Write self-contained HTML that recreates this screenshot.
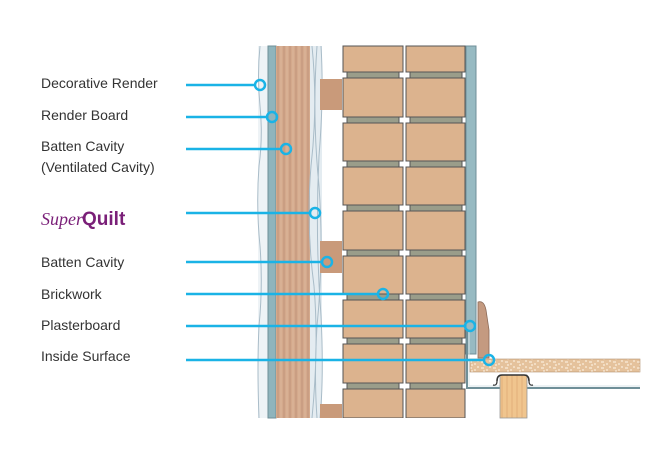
<!DOCTYPE html>
<html><head><meta charset="utf-8"><style>
html,body{margin:0;padding:0;background:#fff;width:667px;height:468px;overflow:hidden}
svg{display:block}
text{font-family:"Liberation Sans",sans-serif;font-size:14px;fill:#333}
</style></head><body>
<svg width="667" height="468" viewBox="0 0 667 468" xmlns="http://www.w3.org/2000/svg">
<defs>
<pattern id="wood" width="6" height="10" patternUnits="userSpaceOnUse">
<rect width="6" height="10" fill="#d4a98c"/><line x1="2" y1="0" x2="2" y2="10" stroke="#c0937a" stroke-width="1"/><line x1="5" y1="0" x2="5" y2="10" stroke="#e0bba2" stroke-width="0.8"/>
</pattern>
<pattern id="chip" width="12" height="6" patternUnits="userSpaceOnUse">
<rect width="12" height="6" fill="#e5c29c"/><path d="M1 2h3M6 4h2M9 1h2M3 5h2" stroke="#fff6e8" stroke-width="1"/>
</pattern>
<pattern id="joist" width="5" height="10" patternUnits="userSpaceOnUse">
<rect width="5" height="10" fill="#f0c58e"/><line x1="2" y1="0" x2="2" y2="10" stroke="#e2b07a" stroke-width="1"/>
</pattern>
</defs>
<!-- render -->
<rect x="258" y="46" width="11" height="372" fill="#eef3f6"/>
<path d="M260 46 q-3 30 0 60 q3 30 -1 60 q-3 40 1 80 q3 40 -1 80 q-2 40 0 92" stroke="#a9bcc8" fill="none"/>
<rect x="268" y="46" width="8" height="372" fill="#8fb4bc" stroke="#6f8f98" stroke-width="1"/>
<!-- batten -->
<rect x="276" y="46" width="34" height="372" fill="url(#wood)"/>
<!-- quilt -->
<rect x="310" y="46" width="12" height="372" fill="#e4ecf1"/>
<path d="M312 46 q6 60 -1 120 q-5 60 3 120 q5 60 -2 132 M317 46 q-5 70 2 140 q5 70 -2 140 q-3 50 0 92 M321 46 q3 50 -2 110 q-4 80 2 160 q3 60 -1 102" stroke="#a9bcc8" fill="none"/>
<!-- small battens -->
<rect x="320" y="79" width="22" height="31" fill="#c99a7a"/>
<rect x="320" y="241" width="22" height="32" fill="#c99a7a"/>
<rect x="320" y="404" width="22" height="14" fill="#c99a7a"/>
<!-- bricks -->
<g stroke="#555" stroke-width="1">
<rect x="343" y="46" width="60" height="26" fill="#dcb38e"/><rect x="406" y="46" width="59" height="26" fill="#dcb38e"/>
<rect x="347" y="72" width="52" height="6" fill="#9a9d8a"/><rect x="410" y="72" width="52" height="6" fill="#9a9d8a"/>
<rect x="343" y="78" width="60" height="39" fill="#dcb38e"/><rect x="406" y="78" width="59" height="39" fill="#dcb38e"/>
<rect x="347" y="117" width="52" height="6" fill="#9a9d8a"/><rect x="410" y="117" width="52" height="6" fill="#9a9d8a"/>
<rect x="343" y="123" width="60" height="38" fill="#dcb38e"/><rect x="406" y="123" width="59" height="38" fill="#dcb38e"/>
<rect x="347" y="161" width="52" height="6" fill="#9a9d8a"/><rect x="410" y="161" width="52" height="6" fill="#9a9d8a"/>
<rect x="343" y="167" width="60" height="38" fill="#dcb38e"/><rect x="406" y="167" width="59" height="38" fill="#dcb38e"/>
<rect x="347" y="205" width="52" height="6" fill="#9a9d8a"/><rect x="410" y="205" width="52" height="6" fill="#9a9d8a"/>
<rect x="343" y="211" width="60" height="39" fill="#dcb38e"/><rect x="406" y="211" width="59" height="39" fill="#dcb38e"/>
<rect x="347" y="250" width="52" height="6" fill="#9a9d8a"/><rect x="410" y="250" width="52" height="6" fill="#9a9d8a"/>
<rect x="343" y="256" width="60" height="38" fill="#dcb38e"/><rect x="406" y="256" width="59" height="38" fill="#dcb38e"/>
<rect x="347" y="294" width="52" height="6" fill="#9a9d8a"/><rect x="410" y="294" width="52" height="6" fill="#9a9d8a"/>
<rect x="343" y="300" width="60" height="38" fill="#dcb38e"/><rect x="406" y="300" width="59" height="38" fill="#dcb38e"/>
<rect x="347" y="338" width="52" height="6" fill="#9a9d8a"/><rect x="410" y="338" width="52" height="6" fill="#9a9d8a"/>
<rect x="343" y="344" width="60" height="39" fill="#dcb38e"/><rect x="406" y="344" width="59" height="39" fill="#dcb38e"/>
<rect x="347" y="383" width="52" height="6" fill="#9a9d8a"/><rect x="410" y="383" width="52" height="6" fill="#9a9d8a"/>
<rect x="343" y="389" width="60" height="29" fill="#dcb38e"/><rect x="406" y="389" width="59" height="29" fill="#dcb38e"/>
</g>
<rect x="342" y="418" width="126" height="4" fill="#fff"/>
<!-- plasterboard -->
<rect x="466" y="46" width="10" height="308" fill="#97bac2" stroke="#6f8f98" stroke-width="1"/>
<path d="M467 330 V388 H640" stroke="#6f8f98" stroke-width="2" fill="none"/>
<path d="M469 330 V386 H640" stroke="#d8e4e8" stroke-width="1" fill="none"/>
<!-- skirting -->
<path d="M478 358 V302 Q484 300 486 310 L489 330 V358 Z" fill="#c49a80" stroke="#8a6a58" stroke-width="0.8"/>
<!-- chipboard floor -->
<rect x="470" y="359" width="170" height="13" fill="url(#chip)" stroke="#b59070" stroke-width="0.6"/>
<!-- joist -->
<rect x="500" y="375" width="27" height="43" fill="url(#joist)" stroke="#999" stroke-width="0.8"/>
<path d="M497 381 q0 -6 5 -6 h22 q5 0 5 6" stroke="#333" stroke-width="1.5" fill="none"/>
<path d="M497 381 q0 5 -4 4 M529 381 q0 5 4 4" stroke="#333" stroke-width="1.2" fill="none"/>
<!-- leader lines -->
<g stroke="#1ab3e6" stroke-width="2.5" fill="none">
<line x1="186" y1="85" x2="255" y2="85"/><circle cx="260" cy="85" r="5" fill="none"/>
<line x1="186" y1="117" x2="267" y2="117"/><circle cx="272" cy="117" r="5"/>
<line x1="186" y1="149" x2="281" y2="149"/><circle cx="286" cy="149" r="5"/>
<line x1="186" y1="213" x2="310" y2="213"/><circle cx="315" cy="213" r="5"/>
<line x1="186" y1="262" x2="322" y2="262"/><circle cx="327" cy="262" r="5"/>
<line x1="186" y1="294" x2="378" y2="294"/><circle cx="383" cy="294" r="5"/>
<line x1="186" y1="326" x2="465" y2="326"/><circle cx="470" cy="326" r="5"/>
<line x1="186" y1="360" x2="484" y2="360"/><circle cx="489" cy="360" r="5"/>
</g>
<!-- labels -->
<text x="41" y="88">Decorative Render</text>
<text x="41" y="120">Render Board</text>
<text x="41" y="151">Batten Cavity</text>
<text x="41" y="172">(Ventilated Cavity)</text>
<text x="41" y="225" style="font-family:'Liberation Serif',serif;font-style:italic;font-size:18px;fill:#7a1f78">Super</text>
<text x="82" y="225" style="font-weight:bold;font-size:19px;fill:#7a1f78">Quilt</text>
<text x="41" y="267">Batten Cavity</text>
<text x="41" y="299">Brickwork</text>
<text x="41" y="330">Plasterboard</text>
<text x="41" y="361">Inside Surface</text>
</svg>
</body></html>
